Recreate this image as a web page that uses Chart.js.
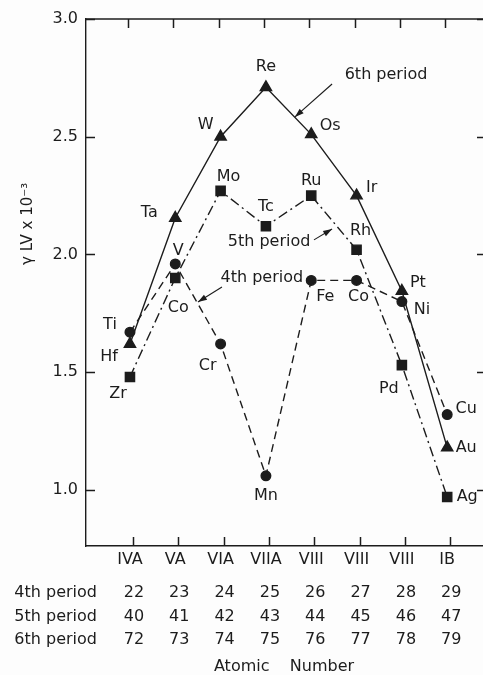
<!DOCTYPE html>
<html>
<head>
<meta charset="utf-8">
<script src="https://cdn.jsdelivr.net/npm/chart.js@4.4.0/dist/chart.umd.min.js"></script>
<style>
  html, body { margin: 0; padding: 0; background: #fdfdfd; overflow: hidden; }
  #wrap { width: 483px; height: 675px; position: relative; }
</style>
</head>
<body>
<div id="wrap"><canvas id="chart"></canvas></div>
<script>
// groups along the x axis and atomic numbers per period
const groups = ["IVA", "VA", "VIA", "VIIA", "VIII", "VIII", "VIII", "IB"];
const z4 = [22, 23, 24, 25, 26, 27, 28, 29];
const z5 = [40, 41, 42, 43, 44, 45, 46, 47];
const z6 = [72, 73, 74, 75, 76, 77, 78, 79];

// element symbols as printed (Nb appears as "Co" in the original figure)
const elems4 = ["Ti", "V", "Cr", "Mn", "Fe", "Co", "Ni", "Cu"];
const elems5 = ["Zr", "Co", "Mo", "Tc", "Ru", "Rh", "Pd", "Ag"];
const elems6 = ["Hf", "Ta", "W", "Re", "Os", "Ir", "Pt", "Au"];

// surface tension gamma_LV x 10^-3
const gamma4 = [1.67, 1.96, 1.62, 1.06, 1.89, 1.89, 1.80, 1.32];
const gamma5 = [1.48, 1.90, 2.27, 2.12, 2.25, 2.02, 1.53, 0.97];
const gamma6 = [1.62, 2.155, 2.50, 2.71, 2.51, 2.25, 1.845, 1.18];

const yTicks = [1.0, 1.5, 2.0, 2.5, 3.0];

// label offsets in px from each point (style only)
const off4 = [[-20, -7], [3, -13], [-13, 22], [0, 20], [14, 16], [2, 16], [20, 8], [19, -6]];
const off5 = [[-12, 17], [3, 30], [8, -14], [0, -19], [0, -15], [4, -19], [-13, 24], [20, 0]];
const off6 = [[-21, 13], [-26, -5], [-15, -12], [0, -20], [19, -9], [15, -8], [16, -8], [19, 0]];

// callout texts with arrows, in data units
const notes = [
  { text: "6th period", x: 5.65, y: 2.762, from: [4.46, 2.724], to: [3.64, 2.584] },
  { text: "5th period", x: 3.07, y: 2.053, from: [4.06, 2.062], to: [4.46, 2.108] },
  { text: "4th period", x: 2.91, y: 1.90, from: [2.03, 1.862], to: [1.50, 1.798] }
];

const ink = "#1c1c1c";
const fontFam = "'DejaVu Sans', sans-serif";

function pts(vals) {
  return vals.map(function (v, i) { return { x: i, y: v }; });
}

const figurePlugin = {
  id: "figure",
  afterDraw: function (chart) {
    const ctx = chart.ctx;
    const xs = chart.scales.x;
    const ys = chart.scales.y;
    const area = chart.chartArea;
    ctx.save();
    ctx.strokeStyle = ink;
    ctx.fillStyle = ink;
    ctx.lineWidth = 1.5;

    // top frame line
    ctx.beginPath();
    ctx.moveTo(area.left, area.top);
    ctx.lineTo(area.right, area.top);
    ctx.stroke();

    // inward ticks on all four sides
    ctx.beginPath();
    for (let i = 0; i < groups.length; i++) {
      const px = Math.round(xs.getPixelForValue(i)) + 0.5;
      ctx.moveTo(px - 2, area.top);
      ctx.lineTo(px - 2, area.top + 9);
      ctx.moveTo(px + 3, area.bottom);
      ctx.lineTo(px + 3, area.bottom - 9);
    }
    for (let j = 0; j < yTicks.length; j++) {
      const py = Math.round(ys.getPixelForValue(yTicks[j])) + 0.5;
      ctx.moveTo(area.left, py);
      ctx.lineTo(area.left + 9, py);
      ctx.moveTo(area.right, py);
      ctx.lineTo(area.right - 6, py);
    }
    ctx.stroke();

    // element labels
    ctx.font = "16px " + fontFam;
    ctx.textAlign = "center";
    ctx.textBaseline = "middle";
    [[elems4, gamma4, off4], [elems5, gamma5, off5], [elems6, gamma6, off6]].forEach(function (set) {
      set[0].forEach(function (name, i) {
        const px = xs.getPixelForValue(i) + set[2][i][0];
        const py = ys.getPixelForValue(set[1][i]) + set[2][i][1];
        ctx.fillText(name, px, py);
      });
    });

    // callouts
    notes.forEach(function (n) {
      ctx.fillText(n.text, xs.getPixelForValue(n.x), ys.getPixelForValue(n.y));
      const x1 = xs.getPixelForValue(n.from[0]), y1 = ys.getPixelForValue(n.from[1]);
      const x2 = xs.getPixelForValue(n.to[0]), y2 = ys.getPixelForValue(n.to[1]);
      ctx.lineWidth = 1.1;
      ctx.beginPath();
      ctx.moveTo(x1, y1);
      ctx.lineTo(x2, y2);
      ctx.stroke();
      const a = Math.atan2(y2 - y1, x2 - x1);
      ctx.beginPath();
      ctx.moveTo(x2, y2);
      ctx.lineTo(x2 - 9 * Math.cos(a) + 3 * Math.sin(a), y2 - 9 * Math.sin(a) - 3 * Math.cos(a));
      ctx.lineTo(x2 - 9 * Math.cos(a) - 3 * Math.sin(a), y2 - 9 * Math.sin(a) + 3 * Math.cos(a));
      ctx.closePath();
      ctx.fill();
    });

    // atomic number table under the axis
    const rows = [["4th period", z4, 47], ["5th period", z5, 71], ["6th period", z6, 94]];
    rows.forEach(function (r) {
      const py = area.bottom + r[2];
      ctx.textAlign = "right";
      ctx.fillText(r[0], area.left + 11, py);
      ctx.textAlign = "center";
      r[1].forEach(function (z, i) {
        ctx.fillText(String(z), xs.getPixelForValue(i) + 4, py);
      });
    });
    ctx.fillText("Atomic    Number", xs.getPixelForValue(3.4), area.bottom + 121);

    // y axis title
    ctx.translate(area.left - 58, ys.getPixelForValue(2.13));
    ctx.rotate(-Math.PI / 2);
    ctx.font = "15px " + fontFam;
    ctx.fillText("\u03b3 LV x 10\u207b\u00b3", 0, 0);
    ctx.restore();
  }
};

const lineBase = {
  borderColor: ink,
  backgroundColor: ink,
  pointBackgroundColor: ink,
  pointBorderColor: ink,
  borderWidth: 1.4,
  tension: 0,
  fill: false
};

new Chart(document.getElementById("chart"), {
  type: "line",
  data: {
    datasets: [
      Object.assign({}, lineBase, {
        label: "6th period",
        data: pts(gamma6),
        pointStyle: "triangle",
        pointRadius: 6.5
      }),
      Object.assign({}, lineBase, {
        label: "5th period",
        data: pts(gamma5),
        borderDash: [10, 4, 2, 4],
        pointStyle: "rect",
        pointRadius: 6.5
      }),
      Object.assign({}, lineBase, {
        label: "4th period",
        data: pts(gamma4),
        borderDash: [8, 5],
        pointStyle: "circle",
        pointRadius: 4.8
      })
    ]
  },
  options: {
    responsive: true,
    maintainAspectRatio: false,
    animation: false,
    layout: { autoPadding: false, padding: { top: 19, right: 0, left: 0, bottom: 0 } },
    plugins: {
      legend: { display: false },
      tooltip: { enabled: false }
    },
    scales: {
      x: {
        type: "linear",
        min: -0.97,
        max: 7.79,
        afterBuildTicks: function (scale) {
          scale.ticks = groups.map(function (g, i) { return { value: i }; });
        },
        afterFit: function (scale) {
          scale.height = 129;
          scale.paddingLeft = 0;
          scale.paddingRight = 0;
        },
        grid: { display: false, drawTicks: false },
        border: { display: true, color: ink, width: 1.4 },
        ticks: {
          autoSkip: false,
          maxRotation: 0,
          padding: 4,
          color: ink,
          font: { size: 16, family: fontFam },
          callback: function (value) { return groups[value] !== undefined ? groups[value] : ""; }
        }
      },
      y: {
        min: 0.762,
        max: 3.0,
        afterBuildTicks: function (scale) {
          scale.ticks = yTicks.map(function (v) { return { value: v }; });
        },
        afterFit: function (scale) {
          scale.width = 86;
          scale.paddingTop = 0;
          scale.paddingBottom = 0;
        },
        grid: { display: false, drawTicks: false },
        border: { display: true, color: ink, width: 1.4 },
        ticks: {
          padding: 8,
          color: ink,
          font: { size: 16, family: fontFam },
          callback: function (value) { return value.toFixed(1); }
        }
      }
    }
  },
  plugins: [figurePlugin]
});
</script>
</body>
</html>
